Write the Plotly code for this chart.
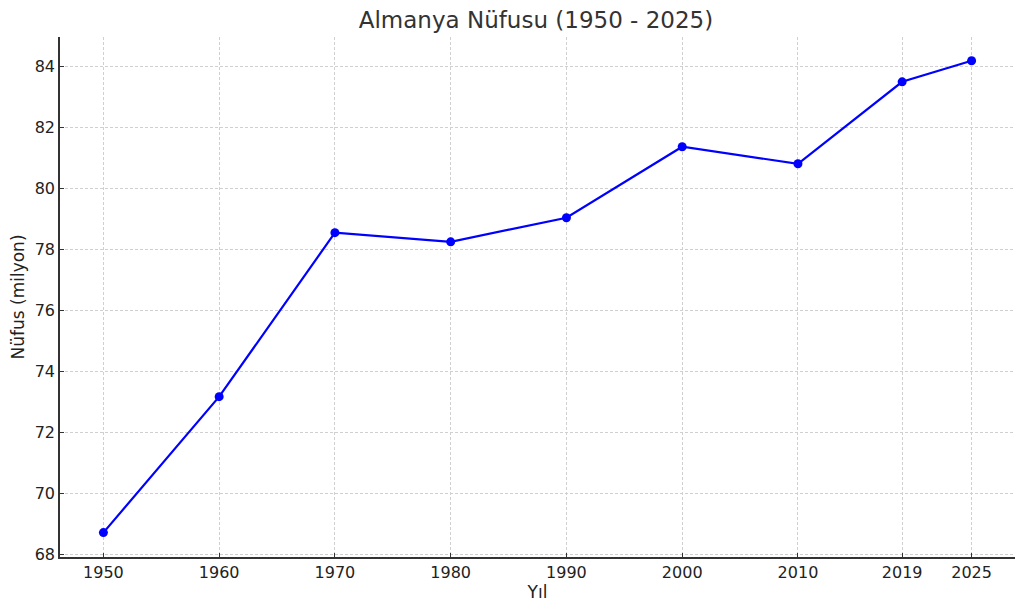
import plotly.graph_objects as go

years = [1950, 1960, 1970, 1980, 1990, 2000, 2010, 2019, 2025]
population = [68.72, 73.18, 78.56, 78.26, 79.05, 81.38, 80.82, 83.51, 84.2]
x_ticks = [1950, 1960, 1970, 1980, 1990, 2000, 2010, 2019, 2025]
y_ticks = [68, 70, 72, 74, 76, 78, 80, 82, 84]

font = "DejaVu Sans"
fig = go.Figure()
fig.add_trace(go.Scatter(
    x=years, y=population, mode="lines+markers",
    line=dict(color="#0000ff", width=2.2),
    marker=dict(color="#0000ff", size=9),
    showlegend=False, cliponaxis=False,
))
fig.update_layout(
    width=1024, height=611,
    paper_bgcolor="white", plot_bgcolor="white",
    margin=dict(l=52, r=17, t=29, b=62, autoexpand=False),
    title=dict(text="Almanya Nüfusu (1950 - 2025)", x=(536 - 8) / 1024, xanchor="center",
               y=1 - 12 / 611, yanchor="middle",
               font=dict(family=font, size=23, color="#333333")),
    font=dict(family=font, color="#333333"),
)
grid = dict(showgrid=True, gridcolor="#d0d0d0", griddash="3px,2px", gridwidth=0.8)
fig.update_xaxes(
    range=[1946.25, 2028.75], tickvals=x_ticks, ticktext=[str(v) for v in x_ticks],
    showline=True, linecolor="#333333", linewidth=1.5, mirror=False,
    ticks="inside", ticklen=4, tickcolor="#333333", automargin=False,
    tickfont=dict(size=16, color="#222222"), zeroline=False,
    title=dict(text="Yıl", font=dict(size=17, color="#222222"), standoff=4),
    **grid,
)
fig.update_yaxes(
    range=[67.92, 84.98], tickvals=y_ticks,
    showline=True, linecolor="#333333", linewidth=1.5, mirror=False,
    ticks="inside", ticklen=4, tickcolor="#333333", automargin=False,
    tickfont=dict(size=16, color="#222222"), zeroline=False,
    title=dict(text="Nüfus (milyon)", font=dict(size=17, color="#222222"), standoff=6),
    **grid,
)
fig.write_html("out.html")
